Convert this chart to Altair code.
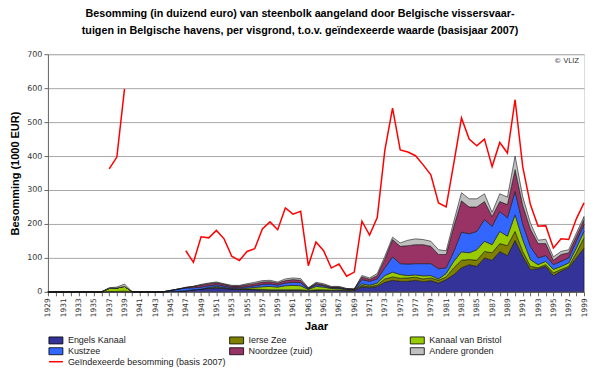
import altair as alt
import pandas as pd

years = list(range(1929, 2000))

series_names = ["Engels Kanaal", "Ierse Zee", "Kanaal van Bristol",
                "Kustzee", "Noordzee (zuid)", "Andere gronden"]
series_colors = ["#333399", "#808000", "#99CC00", "#3366FF", "#993366", "#C0C0C0"]

engels = [0, 0, 0, 0, 0, 0, 0, 0, 0, 0,
          0, 0, 0, 0, 0, 0, 1, 2, 3, 6,
          8, 10, 12, 10, 8, 7, 7, 6, 5, 4,
          4, 4, 4, 4, 3, 4, 4, 4, 5, 3,
          4, 15, 12, 16, 28, 34, 31, 31, 34, 30,
          33, 26, 36, 51, 71, 80, 75, 100, 93, 119,
          107, 152, 105, 66, 68, 75, 48, 61, 71, 100, 129]
ierse = [0, 0, 0, 0, 0, 0, 0, 0, 1, 1,
         2, 0, 0, 0, 0, 0, 0, 0, 0, 0,
         0, 1, 1, 1, 1, 1, 1, 2, 2, 2,
         2, 2, 2, 2, 1, 2, 2, 1, 1, 1,
         1, 4, 3, 4, 10, 10, 9, 10, 9, 8,
         8, 8, 8, 20, 22, 15, 18, 19, 22, 23,
         29, 26, 14, 9, 3, 5, 8, 5, 4, 15, 30]
bristol = [0, 0, 0, 0, 0, 0, 0, 0, 9, 10,
           14, 0, 0, 0, 0, 0, 0, 0, 0, 0,
           0, 2, 3, 2, 1, 2, 3, 5, 8, 10,
           8, 12, 13, 12, 3, 10, 8, 5, 4, 2,
           1, 5, 4, 6, 10, 14, 11, 7, 7, 9,
           7, 4, 10, 19, 25, 20, 31, 30, 24, 36,
           28, 49, 35, 20, 9, 10, 10, 9, 10, 14, 19]
kustzee = [0, 0, 0, 0, 0, 0, 0, 0, 0, 0,
           0, 0, 0, 0, 0, 0, 3, 6, 8, 6,
           6, 5, 5, 4, 3, 3, 4, 5, 7, 7,
           6, 8, 9, 9, 2, 5, 4, 2, 2, 2,
           1, 12, 12, 12, 23, 45, 32, 34, 33, 36,
           35, 30, 17, 29, 58, 56, 54, 64, 54, 59,
           54, 69, 46, 39, 20, 17, 14, 15, 15, 20, 20]
noordzee = [0, 0, 0, 0, 0, 0, 0, 0, 0, 0,
            0, 0, 0, 0, 0, 0, 0, 0, 2, 4,
            6, 6, 6, 5, 4, 4, 6, 6, 7, 7,
            6, 7, 8, 7, 2, 4, 3, 2, 2, 1,
            1, 8, 6, 10, 26, 51, 51, 54, 56, 56,
            51, 42, 39, 74, 92, 79, 72, 53, 29, 29,
            39, 64, 55, 51, 42, 35, 13, 20, 15, 15, 15]
andere = [0, 0, 0, 0, 0, 0, 0, 0, 2, 3,
          7, 0, 0, 0, 0, 0, 0, 0, 0, 0,
          2, 2, 2, 2, 2, 2, 3, 4, 4, 4,
          3, 5, 5, 5, 1, 3, 3, 2, 2, 1,
          0, 4, 4, 6, 8, 7, 10, 16, 17, 15,
          15, 14, 11, 15, 24, 24, 24, 23, 12, 23,
          22, 40, 25, 18, 10, 13, 10, 9, 9, 9, 9]

red_label = "Geïndexeerde besomming (basis 2007)"
red_years_a = [1937, 1938, 1939]
red_values_a = [362, 397, 598]
red_years_b = list(range(1947, 2000))
red_values_b = [121, 87, 162, 159, 181, 156, 105, 92, 119, 127,
                185, 206, 183, 247, 229, 237, 77, 147, 121, 70,
                82, 46, 58, 208, 167, 219, 418, 541, 418, 412,
                401, 374, 345, 262, 250, 379, 512, 450, 430, 450,
                369, 440, 409, 566, 368, 257, 193, 195, 129, 156,
                154, 215, 262]

title_lines = ["Besomming (in duizend euro) van steenbolk aangeland door Belgische vissersvaar-",
               "tuigen in Belgische havens, per visgrond, t.o.v. geïndexeerde waarde (basisjaar 2007)"]

rows = []
for i, (name, vals) in enumerate(zip(series_names, [engels, ierse, bristol, kustzee, noordzee, andere])):
    for yr, v in zip(years, vals):
        rows.append({"Jaar": yr, "Visgrond": name, "Besomming": v, "volgorde": i})
df = pd.DataFrame(rows)

red_rows = []
for seg, (ys, vs) in enumerate([(red_years_a, red_values_a), (red_years_b, red_values_b)]):
    for yr, v in zip(ys, vs):
        red_rows.append({"Jaar": yr, "Waarde": v, "seg": seg, "reeks": red_label})
red_df = pd.DataFrame(red_rows)

W, H = 537, 238

x_axis = alt.Axis(values=years,
                  labelExpr="datum.value % 2 == 1 ? toString(datum.value) : ''",
                  labelAngle=270, labelAlign="right", labelBaseline="middle",
                  labelFontSize=7.5, labelFont="DejaVu Sans", labelColor="#333333",
                  labelPadding=2, tickSize=4, tickColor="#666666",
                  domainColor="#666666", grid=False, labelOverlap=False,
                  title="Jaar", titleFontSize=11.5, titleFont="Liberation Sans",
                  titleFontWeight="bold", titlePadding=4, titleColor="#000000")
x_scale = alt.Scale(domain=[1929, 1999], nice=False, zero=False)

y_axis = alt.Axis(values=[0, 100, 200, 300, 400, 500, 600, 700],
                  labelFontSize=8, labelFont="DejaVu Sans", labelColor="#333333",
                  labelPadding=2, tickSize=4, tickColor="#666666", domainColor="#666666",
                  labelOverlap=False,
                  grid=True, gridColor="#A8A8A8", gridWidth=1,
                  title="Besomming (1000 EUR)", titleFontSize=11, titleFont="Liberation Sans",
                  titleFontWeight="bold", titlePadding=6, titleColor="#000000")
y_scale = alt.Scale(domain=[0, 700], nice=False)

area = alt.Chart(df).mark_area(stroke="#1a1a1a", strokeWidth=0.6, interpolate="linear").encode(
    x=alt.X("Jaar:Q", scale=x_scale, axis=x_axis),
    y=alt.Y("Besomming:Q", stack="zero", scale=y_scale, axis=y_axis),
    fill=alt.Fill("Visgrond:N",
                  scale=alt.Scale(domain=series_names, range=series_colors),
                  sort=series_names,
                  legend=alt.Legend(orient="none", legendX=3.5, legendY=282, direction="horizontal",
                                    columns=3, gridAlign="all", columnPadding=86, rowPadding=0,
                                    title=None, symbolType="M-2,-1L2,-1L2,1L-2,1Z",
                                    symbolSize=49, symbolStrokeColor="#000000",
                                    symbolStrokeWidth=0.8, labelFontSize=9,
                                    labelFont="Liberation Sans", labelColor="#222222",
                                    labelOffset=7.5, padding=0)),
    order=alt.Order("volgorde:Q", sort="ascending"),
)

line = alt.Chart(red_df).mark_line(strokeWidth=1.5).encode(
    x=alt.X("Jaar:Q", scale=x_scale, axis=x_axis),
    y=alt.Y("Waarde:Q", scale=y_scale, axis=y_axis),
    detail="seg:N",
    stroke=alt.Stroke("reeks:N",
                      scale=alt.Scale(domain=[red_label], range=["#FF0000"]),
                      legend=alt.Legend(orient="none", legendX=0, legendY=300, title=None,
                                        symbolType="stroke", symbolSize=196,
                                        symbolStrokeWidth=1.5, labelFontSize=9,
                                        labelFont="Liberation Sans", labelColor="#222222",
                                        labelOffset=4, padding=0)),
)

credit = alt.Chart(pd.DataFrame({"t": ["© VLIZ"]})).mark_text(
    align="right", baseline="middle", fontSize=7, font="DejaVu Sans", color="#333333"
).encode(text="t:N", x=alt.value(W - 5), y=alt.value(7))

chart = alt.layer(area, line, credit).properties(
    width=W, height=H,
    autosize="none",
    padding={"left": 40, "top": 46, "right": 8, "bottom": 76},
    title=alt.TitleParams(text=title_lines, fontSize=10.8, font="Liberation Sans",
                          fontWeight="bold", anchor="middle", dx=-16, offset=14,
                          lineHeight=17, color="#000000"),
).configure_view(fill="#F3FBFB", stroke="#A8A8A8").configure(background="#FFFFFF")

chart.save("out.html", embed_options={"renderer": "svg", "actions": False})
